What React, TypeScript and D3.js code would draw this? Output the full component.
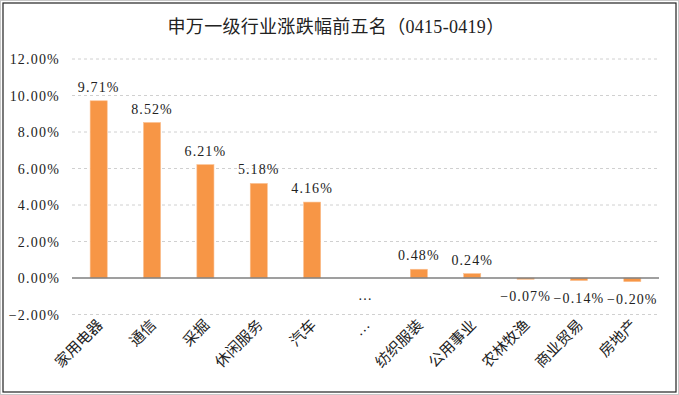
import React, { useEffect, useRef } from 'react'
import * as d3 from 'd3'

const categories = ['家用电器', '通信', '采掘', '休闲服务', '汽车', '…', '纺织服装', '公用事业', '农林牧渔', '商业贸易', '房地产']
const values = [9.71, 8.52, 6.21, 5.18, 4.16, 0, 0.48, 0.24, -0.07, -0.14, -0.2]
const valueLabels = ['9.71%', '8.52%', '6.21%', '5.18%', '4.16%', '…', '0.48%', '0.24%', '-0.07%', '-0.14%', '-0.20%']
const yTicks = [-2, 0, 2, 4, 6, 8, 10, 12]
const title = '申万一级行业涨跌幅前五名（0415-0419）'

const FONT = '"Liberation Serif", "Noto Sans CJK SC", serif'

export default function App() {
  const ref = useRef<SVGSVGElement>(null)

  useEffect(() => {
    const width = 679, height = 395
    const svg = d3.select(ref.current)
    svg.selectAll('*').remove()
    svg.attr('width', width).attr('height', height)

    // frame
    svg.append('rect').attr('x', 0.5).attr('y', 0.5).attr('width', width - 1).attr('height', height - 1)
      .attr('fill', '#fff').attr('stroke', '#c8c8c8').attr('stroke-width', 1)
    svg.append('rect').attr('x', 3).attr('y', 3).attr('width', width - 6).attr('height', height - 6)
      .attr('fill', 'none').attr('stroke', '#222').attr('stroke-width', 1.2)

    const x = d3.scaleBand().domain(categories).range([72, 659]).paddingInner(0.68).paddingOuter(0.34)
    const y = d3.scaleLinear().domain([-2, 12]).range([314.5, 59])

    svg.append('text').attr('x', 336).attr('y', 33).attr('text-anchor', 'middle')
      .attr('font-family', FONT).attr('font-size', 18).attr('letter-spacing', 0.3).attr('fill', '#222').text(title)

    // grid
    svg.append('g').selectAll('line').data(yTicks.filter(t => t !== 0)).join('line')
      .attr('x1', 72).attr('x2', 659)
      .attr('y1', d => y(d)).attr('y2', d => y(d))
      .attr('stroke', '#d0d0d0').attr('stroke-width', 1).attr('stroke-dasharray', '3,3')

    // y tick labels
    svg.append('g').selectAll('text').data(yTicks).join('text')
      .attr('x', 60).attr('y', d => y(d) + 5).attr('text-anchor', 'end')
      .attr('font-family', FONT).attr('font-size', 14).attr('letter-spacing', 1.2).attr('fill', '#222')
      .text(d => (d < 0 ? '−' : '') + Math.abs(d).toFixed(2) + '%')

    // bars
    svg.append('g').selectAll('rect').data(values).join('rect')
      .attr('x', (d, i) => x(categories[i])!)
      .attr('width', x.bandwidth())
      .attr('y', d => y(Math.max(0, d)))
      .attr('height', d => Math.abs(y(d) - y(0)))
      .attr('fill', '#F79646').attr('stroke', '#fbbf8e').attr('stroke-width', 0.6)

    // axis
    svg.append('line').attr('x1', 72).attr('x2', 659).attr('y1', y(0)).attr('y2', y(0))
      .attr('stroke', '#7f7f7f').attr('stroke-width', 1.5)

    // value labels
    svg.append('g').selectAll('text').data(values).join('text')
      .attr('x', (d, i) => x(categories[i])! + x.bandwidth() / 2)
      .attr('y', (d, i) => (d > 0 ? y(d) - 9 : y(Math.min(d, 0)) + 22))
      .attr('text-anchor', 'middle')
      .attr('font-family', FONT).attr('font-size', 14).attr('letter-spacing', 1.1).attr('fill', '#222')
      .text((d, i) => valueLabels[i].replace('-', '−'))

    // category labels
    svg.append('g').selectAll('text').data(categories).join('text')
      .attr('transform', d => `translate(${x(d)! + x.bandwidth() / 2 + 5},${326}) rotate(-45)`)
      .attr('text-anchor', 'end')
      .attr('font-family', FONT).attr('font-size', 15).attr('fill', '#222')
      .text(d => d)
  }, [])

  return <svg ref={ref} style={{ display: 'block', position: 'absolute', left: 0, top: 0 }} />
}
